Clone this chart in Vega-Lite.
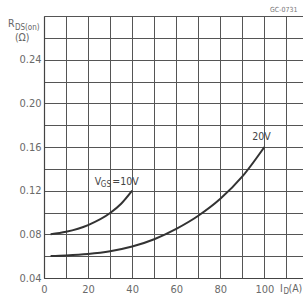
{
  "$schema": "https://vega.github.io/schema/vega-lite/v6.json",
  "width": 259,
  "height": 262,
  "autosize": {"type": "none"},
  "padding": {"left": 44, "top": 16, "right": 0, "bottom": 20},
  "background": "white",
  "config": {
    "view": {"stroke": null},
    "font": "DejaVu Sans Condensed, DejaVu Sans",
    "axis": {
      "gridColor": "#555",
      "gridOpacity": 1,
      "gridWidth": 1,
      "domainColor": "#444",
      "domainWidth": 1.2,
      "ticks": false,
      "labelColor": "#6a6a6a",
      "labelFontSize": 11,
      "labelFont": "DejaVu Sans Condensed, DejaVu Sans",
      "title": null
    }
  },
  "datasets": {
    "curves": [
      {"series": "10V", "I": 3, "R": 0.0800},
      {"series": "10V", "I": 10, "R": 0.0823},
      {"series": "10V", "I": 20, "R": 0.0885},
      {"series": "10V", "I": 30, "R": 0.0995},
      {"series": "10V", "I": 35, "R": 0.1080},
      {"series": "10V", "I": 40, "R": 0.1200},
      {"series": "20V", "I": 3, "R": 0.0602},
      {"series": "20V", "I": 10, "R": 0.0607},
      {"series": "20V", "I": 20, "R": 0.0620},
      {"series": "20V", "I": 30, "R": 0.0645},
      {"series": "20V", "I": 40, "R": 0.0688},
      {"series": "20V", "I": 50, "R": 0.0755},
      {"series": "20V", "I": 60, "R": 0.0850},
      {"series": "20V", "I": 70, "R": 0.0970},
      {"series": "20V", "I": 80, "R": 0.1125},
      {"series": "20V", "I": 90, "R": 0.1330},
      {"series": "20V", "I": 100, "R": 0.1600}
    ],
    "mainText": [
      {"I": 23.0, "R": 0.128, "t": "V", "c": "curve"},
      {"I": 31.0, "R": 0.128, "t": "=10V", "c": "curve"},
      {"I": 94.5, "R": 0.169, "t": "20V", "c": "curve"},
      {"I": 107.1, "R": 0.0299, "t": "I", "c": "axis"},
      {"I": 110.9, "R": 0.0299, "t": "(A)", "c": "axis"},
      {"I": -16.3, "R": 0.2727, "t": "R", "c": "axis"},
      {"I": -13.2, "R": 0.2598, "t": "(Ω)", "c": "axis"}
    ],
    "subText": [
      {"I": 25.8, "R": 0.1255, "t": "GS", "c": "curve"},
      {"I": 108.6, "R": 0.0272, "t": "D", "c": "axis"},
      {"I": -13.2, "R": 0.2690, "t": "DS(on)", "c": "axis"}
    ],
    "tinyText": [
      {"I": 102.5, "R": 0.2855, "t": "GC-0731"}
    ]
  },
  "encoding": {
    "x": {
      "field": "I", "type": "quantitative",
      "scale": {"domain": [0, 117.5], "nice": false, "zero": false},
      "axis": {
        "values": [0, 10, 20, 30, 40, 50, 60, 70, 80, 90, 100, 110],
        "labelExpr": "datum.value % 20 == 0 && datum.value <= 100 ? datum.label : ''",
        "labelPadding": 5,
        "labelFlush": false,
        "labelOverlap": false,
        "grid": true
      }
    },
    "y": {
      "field": "R", "type": "quantitative",
      "scale": {"domain": [0.04, 0.28], "nice": false, "zero": false},
      "axis": {
        "values": [0.04, 0.06, 0.08, 0.10, 0.12, 0.14, 0.16, 0.18, 0.20, 0.22, 0.24, 0.26, 0.28],
        "format": ".2f",
        "labelExpr": "round(datum.value * 100) % 4 == 0 && datum.value < 0.25 ? datum.label : ''",
        "labelPadding": 3,
        "labelFlush": false,
        "labelOverlap": false,
        "grid": true
      }
    }
  },
  "layer": [
    {
      "data": {"name": "curves"},
      "mark": {"type": "line", "interpolate": "monotone", "color": "#333", "strokeWidth": 2},
      "encoding": {
        "detail": {"field": "series"}
      }
    },
    {
      "data": {"name": "mainText"},
      "mark": {"type": "text", "align": "left", "baseline": "middle", "fontSize": 10.5},
      "encoding": {
        "text": {"field": "t"},
        "color": {"field": "c", "type": "nominal", "scale": {"domain": ["curve", "axis"], "range": ["#444", "#666"]}, "legend": null}
      }
    },
    {
      "data": {"name": "subText"},
      "mark": {"type": "text", "align": "left", "baseline": "middle", "fontSize": 8},
      "encoding": {
        "text": {"field": "t"},
        "color": {"field": "c", "type": "nominal", "scale": {"domain": ["curve", "axis"], "range": ["#444", "#666"]}, "legend": null}
      }
    },
    {
      "data": {"name": "tinyText"},
      "mark": {"type": "text", "align": "left", "baseline": "middle", "fontSize": 7, "color": "#777"},
      "encoding": {
        "text": {"field": "t"}
      }
    }
  ]
}
